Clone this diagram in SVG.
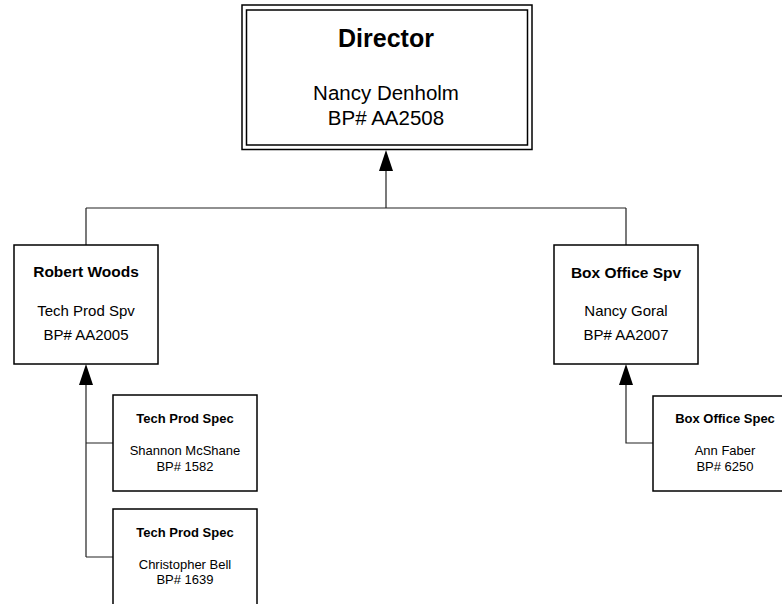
<svg xmlns="http://www.w3.org/2000/svg" width="782" height="604" viewBox="0 0 782 604">
<style>
.box{fill:#fff;stroke:#000;stroke-width:1.5}
.con{fill:none;stroke:#222;stroke-width:1.2}
.ah{fill:#000}
text{font-family:"Liberation Sans",Arial,sans-serif;text-anchor:middle;fill:#000}
.b24{font-size:25px;font-weight:bold}
.r20{font-size:20.5px}
.b15{font-size:15.5px;font-weight:bold}
.r15{font-size:15px}
.b13{font-size:13px;font-weight:bold}
.r13{font-size:13px}
</style>
<rect width="782" height="604" fill="#fff"/>
<g id="connectors">
<path class="con" d="M386 208 V168 M86 208 H626 M86 208 V245 M626 208 V245"/>
<polygon class="ah" points="386,150 379,171 393,171"/>
<path class="con" d="M86 382 V557 M86 443 H113 M86 557 H113"/>
<polygon class="ah" points="86,364 79,385 93,385"/>
<path class="con" d="M626 382 V443 H653"/>
<polygon class="ah" points="626,364 619,385 633,385"/>
</g>
<g id="director">
<rect class="box" x="242" y="5" width="290" height="144.5"/>
<rect class="box" x="246.5" y="10" width="281" height="135"/>
<text class="b24" x="386" y="47">Director</text>
<text class="r20" x="386" y="100">Nancy Denholm</text>
<text class="r20" x="386" y="125">BP# AA2508</text>
</g>
<g id="robert-woods">
<rect class="box" x="14" y="245" width="144" height="119"/>
<text class="b15" x="86" y="277">Robert Woods</text>
<text class="r15" x="86" y="316">Tech Prod Spv</text>
<text class="r15" x="86" y="340">BP# AA2005</text>
</g>
<g id="box-office-spv">
<rect class="box" x="554" y="245" width="144" height="119"/>
<text class="b15" x="626" y="278">Box Office Spv</text>
<text class="r15" x="626" y="316">Nancy Goral</text>
<text class="r15" x="626" y="340">BP# AA2007</text>
</g>
<g id="tech-prod-spec-1">
<rect class="box" x="113" y="395" width="144" height="96"/>
<text class="b13" x="185" y="423">Tech Prod Spec</text>
<text class="r13" x="185" y="455">Shannon McShane</text>
<text class="r13" x="185" y="471">BP# 1582</text>
</g>
<g id="tech-prod-spec-2">
<rect class="box" x="113" y="509" width="144" height="100"/>
<text class="b13" x="185" y="537">Tech Prod Spec</text>
<text class="r13" x="185" y="569">Christopher Bell</text>
<text class="r13" x="185" y="584">BP# 1639</text>
</g>
<g id="box-office-spec">
<rect class="box" x="653" y="396" width="144" height="95"/>
<text class="b13" x="725" y="423">Box Office Spec</text>
<text class="r13" x="725" y="455">Ann Faber</text>
<text class="r13" x="725" y="471">BP# 6250</text>
</g>
</svg>
